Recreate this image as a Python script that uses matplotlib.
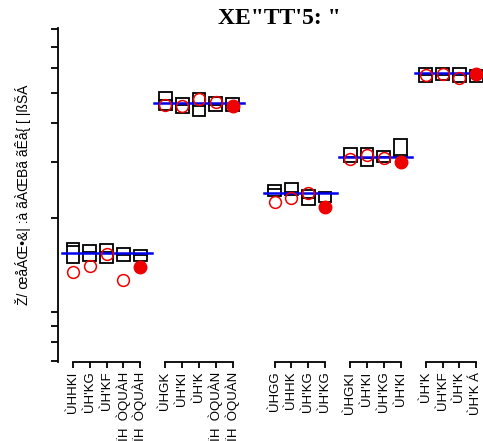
import matplotlib
matplotlib.use("Agg")
import matplotlib.pyplot as plt

# ---------------------------------------------------------------------------
# Values per group: box top / median / bottom, the open-circle value,
# the filled marker (last item of each group) and the group mean line.
# ---------------------------------------------------------------------------
g1_top = [35.5, 35.0, 35.3, 34.0, 33.5]
g1_med = [34.7, 33.0, 32.9, 32.0, 32.0]
g1_bot = [29.5, 30.3, 29.5, 30.3, 30.3]
g1_pt = [27.0, 28.7, 32.3, 24.6, 28.5]
g1_mean = 32.7

g2_top = [80.7, 78.9, 80.4, 79.4, 79.1]
g2_med = [78.4, 76.8, 76.5, 77.0, 77.0]
g2_bot = [75.4, 74.6, 73.7, 75.1, 75.1]
g2_pt = [76.9, 76.6, 78.7, 77.7, 76.7]
g2_mean = 77.5

g3_top = [53.0, 53.5, 51.5, 51.0]
g3_med = [51.7, 51.0, 49.0, 50.5]
g3_bot = [49.7, 50.0, 47.0, 48.0]
g3_pt = [48.0, 49.0, 50.5, 46.5]
g3_mean = 50.5

g4_top = [64.0, 64.0, 63.3, 66.7]
g4_med = [61.5, 61.0, 61.5, 62.0]
g4_bot = [60.0, 58.7, 60.0, 61.5]
g4_pt = [60.7, 62.0, 61.0, 60.0]
g4_mean = 61.3

g5_top = [87.9, 87.9, 87.9, 87.4]
g5_med = [86.0, 86.0, 86.0, 85.5]
g5_bot = [83.9, 84.4, 83.8, 83.8]
g5_pt = [85.9, 86.1, 85.1, 86.1]
g5_mean = 86.4

g1_labels = ["ÙHHKI", "ÙH'KG", "ÙH'KF", "ÏH  ÒQUÀH", "ÏH  ÒQUÀH"]
g2_labels = ["ÙHGK", "ÙH'KI", "ÙH'K", "ÏH  ÒQUÀN", "ÏH  ÒQUÀN"]
g3_labels = ["ÙHGG", "ÙHHK", "ÙH'KG", "ÙH'KG"]
g4_labels = ["ÙHGKI", "ÙH'KI", "ÙH'KG", "ÙH'KI"]
g5_labels = ["ÙH'K", "ÙH'KF", "ÙH'K", "ÙH'K Á"]

ytick_vals = [0.3, 6.0, 10.8, 15.0, 43.1, 59.9, 71.6, 80.5, 88.0, 94.3, 99.6]

title_text = "XE\"TT'5: \""
ylabel_text = "Ž/ œåÁŒ•&| :à ãÀŒBã ãÊå{ [ |ßŠÁ"

groups = [
    (g1_top, g1_med, g1_bot, g1_pt, g1_mean, g1_labels),
    (g2_top, g2_med, g2_bot, g2_pt, g2_mean, g2_labels),
    (g3_top, g3_med, g3_bot, g3_pt, g3_mean, g3_labels),
    (g4_top, g4_med, g4_bot, g4_pt, g4_mean, g4_labels),
    (g5_top, g5_med, g5_bot, g5_pt, g5_mean, g5_labels),
]
# x start of each group
starts = [0.0, 5.5, 12.0, 16.5, 21.0]

fig = plt.figure(figsize=(4.83, 4.41), dpi=100)
ax = fig.add_axes([58 / 483, 1 - 362 / 441, 1 - 58 / 483, (362 - 28) / 441])

box_w = 0.76
all_x, all_lab = [], []
for (top, med, bot, pt, mean, labs), x0 in zip(groups, starts):
    xs = [x0 + i for i in range(len(top))]
    for x, t, m, b in zip(xs, top, med, bot):
        ax.bar(x, t - b, bottom=b, width=box_w, fill=False,
               edgecolor="black", linewidth=1.3, zorder=2)
        ax.plot([x - box_w / 2, x + box_w / 2], [m, m], color="black",
                linewidth=1.3, zorder=2)
    ax.plot([xs[0] - 0.65, xs[-1] + 0.7], [mean, mean], color="#0000ee",
            linewidth=1.8, zorder=3)
    ax.plot(xs[:-1], pt[:-1], "o", markersize=8.5, markerfacecolor="none",
            markeredgecolor="#ee0000", markeredgewidth=1.1, zorder=4)
    ax.plot(xs[-1:], pt[-1:], "o", markersize=9, color="#ee0000",
            zorder=4, clip_on=False)
    # separate x axis line for each group
    ax.plot([xs[0], xs[-1]], [0, 0], color="black", linewidth=1.3,
            clip_on=False, zorder=5)
    all_x += xs
    all_lab += labs

ax.set_xlim(-0.89, 24.4)
ax.set_ylim(0, 100)

for side in ["top", "right", "bottom"]:
    ax.spines[side].set_visible(False)
ax.spines["left"].set_linewidth(1.3)

ax.set_yticks(ytick_vals)
ax.set_yticklabels([])
ax.tick_params(axis="y", length=5, width=1.3)

ax.set_xticks(all_x)
ax.set_xticklabels(all_lab, rotation=90, fontsize=9.5, family="Liberation Sans")
ax.tick_params(axis="x", length=4, width=1.3, pad=3)

ax.set_ylabel(ylabel_text, fontsize=10, family="Liberation Sans", labelpad=11)

fig.text(279 / 483, 1 - 18 / 441, title_text, ha="center", va="center",
         fontsize=17, fontweight="bold", family="Liberation Serif")

fig.savefig("out.png", dpi=100)
